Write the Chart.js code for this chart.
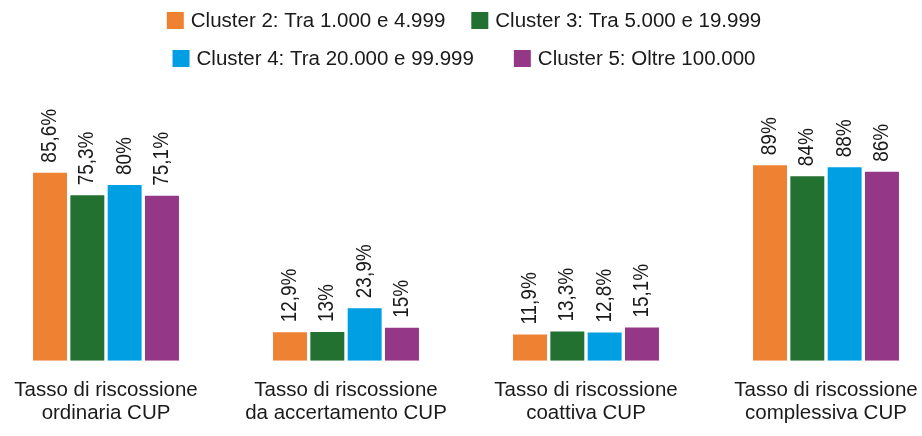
<!DOCTYPE html>
<html>
<head>
<meta charset="utf-8">
<script src="https://cdn.jsdelivr.net/npm/chart.js@4/dist/chart.umd.min.js"></script>
<style>
  html, body { margin: 0; padding: 0; background: #ffffff; overflow: hidden; width: 922px; height: 436px; }
  #wrap { position: absolute; left: -14px; top: 0; width: 960px; height: 436px; }
</style>
</head>
<body>
<div id="wrap"><canvas id="c" width="960" height="436"></canvas></div>
<script>
const categories = [
  ['Tasso di riscossione', 'ordinaria CUP'],
  ['Tasso di riscossione', 'da accertamento CUP'],
  ['Tasso di riscossione', 'coattiva CUP'],
  ['Tasso di riscossione', 'complessiva CUP']
];
const seriesNames = [
  'Cluster 2: Tra 1.000 e 4.999',
  'Cluster 3: Tra 5.000 e 19.999',
  'Cluster 4: Tra 20.000 e 99.999',
  'Cluster 5: Oltre 100.000'
];
const cluster2 = [85.6, 12.9, 11.9, 89];
const cluster3 = [75.3, 13, 13.3, 84];
const cluster4 = [80, 23.9, 12.8, 88];
const cluster5 = [75.1, 15, 15.1, 86];
const seriesColors = ['#EF8133', '#237130', '#009FE3', '#943787'];

const FONT = '"Liberation Sans", Arial, sans-serif';

const valueLabels = {
  id: 'valueLabels',
  afterDatasetsDraw(chart) {
    const ctx = chart.ctx;
    ctx.save();
    ctx.fillStyle = '#1a1a1a';
    ctx.font = '22px ' + FONT;
    ctx.textAlign = 'left';
    ctx.textBaseline = 'middle';
    chart.data.datasets.forEach((ds, di) => {
      const meta = chart.getDatasetMeta(di);
      meta.data.forEach((el, i) => {
        const txt = String(ds.data[i]).replace('.', ',') + '%';
        ctx.save();
        ctx.translate(el.x, el.y - 10);
        ctx.rotate(-Math.PI / 2);
        ctx.scale(0.86, 1);
        ctx.fillText(txt, 0, 0);
        ctx.restore();
      });
    });
    ctx.restore();
  }
};

const rowLegend = {
  id: 'rowLegend',
  afterDraw(chart, args, opts) {
    const ctx = chart.ctx;
    const ds = chart.data.datasets;
    ctx.save();
    ctx.font = opts.fontSize + 'px ' + FONT;
    ctx.textBaseline = 'middle';
    ctx.textAlign = 'left';
    const cx = chart.width / 2 + opts.shiftX;
    opts.rows.forEach((row, r) => {
      const gap = opts.gaps[r];
      const widths = row.map(i => opts.box + opts.boxGap + ctx.measureText(ds[i].label).width);
      const total = widths.reduce((a, b) => a + b, 0) + gap * (row.length - 1);
      let x = cx - total / 2;
      const yc = opts.rowY[r];
      row.forEach((i, k) => {
        ctx.fillStyle = ds[i].backgroundColor;
        ctx.fillRect(x, yc - opts.box / 2, opts.box, opts.box);
        ctx.fillStyle = '#1a1a1a';
        ctx.fillText(ds[i].label, x + opts.box + opts.boxGap, yc + 1);
        x += widths[k] + gap;
      });
    });
    ctx.restore();
  }
};

const allSeries = [cluster2, cluster3, cluster4, cluster5];

new Chart(document.getElementById('c'), {
  type: 'bar',
  data: {
    labels: categories,
    datasets: allSeries.map((d, i) => ({
      label: seriesNames[i],
      data: d,
      backgroundColor: seriesColors[i],
      borderWidth: 0,
      categoryPercentage: 0.622,
      barPercentage: 0.91
    }))
  },
  options: {
    responsive: false,
    devicePixelRatio: 1,
    animation: false,
    layout: { padding: { top: 141, bottom: -7, left: 0, right: 0 } },
    plugins: {
      legend: { display: false },
      tooltip: { enabled: false },
      rowLegend: {
        rows: [[0, 1], [2, 3]],
        gaps: [26, 40],
        rowY: [20.5, 58.5],
        box: 17,
        boxGap: 7,
        fontSize: 20.5,
        shiftX: -2
      }
    },
    scales: {
      x: {
        grid: { display: false, drawTicks: false },
        border: { display: false },
        ticks: {
          color: '#1a1a1a',
          padding: 18,
          font: { family: FONT, size: 20.5, lineHeight: 1.13 },
          maxRotation: 0,
          autoSkip: false
        }
      },
      y: {
        display: false,
        min: 0,
        max: 100
      }
    }
  },
  plugins: [valueLabels, rowLegend]
});
</script>
</body>
</html>
